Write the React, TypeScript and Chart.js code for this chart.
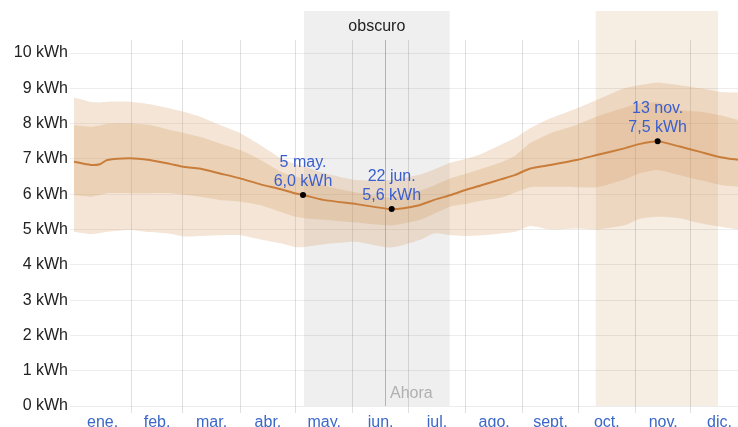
import React, { useEffect, useRef } from 'react';
import { Chart, registerables } from 'chart.js';

Chart.register(...registerables);

// ---- data (day of year, 0 = 1 Jan) ----
const days = [0, 9, 14, 18, 30, 41, 52, 60, 68, 79, 90, 101, 112, 120, 124, 135, 153, 172, 187, 195, 204, 212, 221, 231, 239, 247, 258, 272, 283, 298, 306, 316, 328, 339, 350, 360];

const median = [6.92, 6.83, 6.85, 6.97, 7.02, 6.97, 6.86, 6.77, 6.73, 6.59,
  6.45, 6.28, 6.14, 6.02, 5.98, 5.84, 5.72, 5.58, 5.69, 5.84,
  5.98, 6.12, 6.26, 6.42, 6.55, 6.73, 6.83, 6.97, 7.11, 7.3,
  7.42, 7.5, 7.35, 7.2, 7.05, 6.97];

const p90 = [8.74, 8.62, 8.6, 8.62, 8.62, 8.55, 8.43, 8.33, 8.2, 7.96,
  7.73, 7.39, 7.02, 6.85, 6.8, 6.6, 6.4, 6.4, 6.55, 6.7,
  6.9, 7.0, 7.15, 7.4, 7.6, 7.87, 8.15, 8.43, 8.67, 9.0,
  9.09, 9.16, 9.09, 9.0, 8.9, 8.88];

const p75 = [7.96, 7.91, 7.95, 8.0, 8.01, 7.96, 7.82, 7.73, 7.63, 7.44,
  7.25, 6.97, 6.64, 6.5, 6.45, 6.25, 6.05, 5.9, 6.1, 6.25,
  6.45, 6.58, 6.73, 6.9, 7.1, 7.45, 7.73, 7.96, 8.2, 8.45,
  8.57, 8.6, 8.39, 8.34, 8.24, 8.1];

const p25 = [5.98, 5.93, 5.98, 6.03, 6.03, 6.03, 6.03, 5.98, 5.93, 5.84,
  5.79, 5.69, 5.5, 5.36, 5.33, 5.28, 5.2, 5.12, 5.27, 5.45,
  5.65, 5.72, 5.82, 5.9, 6.05, 6.2, 6.21, 6.2, 6.2, 6.42,
  6.59, 6.69, 6.54, 6.4, 6.26, 6.21];

const p10 = [4.94, 4.87, 4.9, 4.94, 4.99, 4.93, 4.88, 4.8, 4.82, 4.84,
  4.84, 4.72, 4.61, 4.5, 4.5, 4.58, 4.65, 4.49, 4.7, 4.89,
  4.84, 4.82, 4.84, 4.89, 4.94, 5.1, 5.0, 5.03, 5.0, 5.12,
  5.3, 5.36, 5.32, 5.18, 5.08, 5.0];

const monthLabels = ['ene.', 'feb.', 'mar.', 'abr.', 'may.', 'jun.', 'jul.', 'ago.', 'sept.', 'oct.', 'nov.', 'dic.'];
const monthStarts = [0, 31, 59, 90, 120, 151, 181, 212, 243, 273, 304, 334];
const monthLengths = [31, 28, 31, 30, 31, 30, 31, 31, 30, 31, 30, 31];
const yTicks = [0, 1, 2, 3, 4, 5, 6, 7, 8, 9, 10];

const markerDays = [124, 172, 316];
const markerValues = [5.98, 5.58, 7.5];
const markerDates = ['5 may.', '22 jun.', '13 nov.'];
const markerTexts = ['6,0 kWh', '5,6 kWh', '7,5 kWh'];

const darkPeriod = [124.5, 203.4];
const darkLabel = 'obscuro';
const brightPeriod = [282.5, 348.7];
const nowDay = 168.2;
const nowLabel = 'Ahora';

const X_MIN = 0;
const X_MAX = 359.5;
const Y_MIN = 0;
const Y_MAX = 10.37;

const FONT = "'Liberation Sans', Arial, sans-serif";

const pts = (vals: number[]) => vals.map((v, i) => ({ x: days[i], y: v }));

const noPad = (s: any) => {
  s.paddingLeft = 0;
  s.paddingRight = 0;
  s.paddingTop = 0;
  s.paddingBottom = 0;
};

const decorPlugin = {
  id: 'decor',
  beforeDraw(chart: any) {
    const { ctx, chartArea, scales } = chart;
    const xs = scales.x;
    const top = chartArea.top - 29;
    const bottom = chartArea.bottom;
    ctx.save();
    const bx0 = xs.getPixelForValue(brightPeriod[0]);
    const bx1 = xs.getPixelForValue(brightPeriod[1]);
    ctx.fillStyle = '#f6ede3';
    ctx.fillRect(bx0, top, bx1 - bx0, bottom - top);
    const dx0 = xs.getPixelForValue(darkPeriod[0]);
    const dx1 = xs.getPixelForValue(darkPeriod[1]);
    ctx.fillStyle = '#efefef';
    ctx.fillRect(dx0, top, dx1 - dx0, bottom - top);
    ctx.fillStyle = '#222';
    ctx.font = `16px ${FONT}`;
    ctx.textAlign = 'center';
    ctx.textBaseline = 'middle';
    ctx.fillText(darkLabel, (dx0 + dx1) / 2, top + 16);
    ctx.restore();
  },
  beforeDatasetsDraw(chart: any) {
    const { ctx, chartArea, scales } = chart;
    const x = Math.round(scales.x.getPixelForValue(nowDay)) + 0.5;
    ctx.save();
    ctx.strokeStyle = 'rgba(0,0,0,0.25)';
    ctx.lineWidth = 1;
    ctx.beginPath();
    ctx.moveTo(x, chartArea.top);
    ctx.lineTo(x, chartArea.bottom);
    ctx.stroke();
    ctx.fillStyle = '#b0b0b0';
    ctx.font = `16px ${FONT}`;
    ctx.textAlign = 'left';
    ctx.textBaseline = 'alphabetic';
    ctx.fillText(nowLabel, x + 4.5, chartArea.bottom - 8);
    ctx.restore();
  },
  afterDatasetsDraw(chart: any) {
    const { ctx, scales } = chart;
    ctx.save();
    ctx.fillStyle = '#3a5fcd';
    ctx.font = `16px ${FONT}`;
    ctx.textAlign = 'center';
    ctx.textBaseline = 'alphabetic';
    markerDays.forEach((d, i) => {
      const px = scales.x.getPixelForValue(d);
      const py = scales.y.getPixelForValue(markerValues[i]);
      ctx.fillText(markerDates[i], px, py - 28);
      ctx.fillText(markerTexts[i], px, py - 9);
    });
    ctx.restore();
  },
};

export default function App() {
  const ref = useRef<HTMLCanvasElement | null>(null);

  useEffect(() => {
    if (!ref.current) return;
    Chart.defaults.font.family = FONT;
    const outer = 'rgba(210,150,90,0.25)';
    const inner = 'rgba(205,140,75,0.22)';
    const chart = new Chart(ref.current, {
      type: 'line',
      data: {
        datasets: [
          { data: pts(p90), fill: '+1', backgroundColor: outer, borderWidth: 0, pointRadius: 0, tension: 0.2, order: 4 },
          { data: pts(p10), fill: false, borderWidth: 0, pointRadius: 0, tension: 0.2, order: 4 },
          { data: pts(p75), fill: '+1', backgroundColor: inner, borderWidth: 0, pointRadius: 0, tension: 0.2, order: 3 },
          { data: pts(p25), fill: false, borderWidth: 0, pointRadius: 0, tension: 0.2, order: 3 },
          { data: pts(median), fill: false, borderColor: '#c97d3a', borderWidth: 2, pointRadius: 0, tension: 0.2, order: 2 },
          {
            data: markerDays.map((d, i) => ({ x: d, y: markerValues[i] })),
            showLine: false, pointRadius: 3, pointBackgroundColor: '#000', pointBorderWidth: 0, borderColor: '#000', order: 1,
          },
        ],
      },
      options: {
        responsive: false,
        animation: false,
        layout: { autoPadding: false, padding: { top: 40, left: 0, right: 0, bottom: 0 } },
        plugins: { legend: { display: false }, tooltip: { enabled: false } },
        scales: {
          xg: {
            type: 'linear', axis: 'x', position: 'bottom', weight: 0,
            min: X_MIN, max: X_MAX,
            afterBuildTicks: (s: any) => { s.ticks = monthStarts.slice(1).map((v) => ({ value: v })); },
            afterFit: (s: any) => { s.height = 0; noPad(s); },
            grid: { color: 'rgba(0,0,0,0.12)', drawTicks: true, tickLength: 7, lineWidth: 1 },
            border: { display: false },
            ticks: { display: false },
          } as any,
          x: {
            type: 'linear', position: 'bottom', weight: 1,
            min: X_MIN, max: X_MAX,
            afterBuildTicks: (s: any) => { s.ticks = monthStarts.map((v, i) => ({ value: v + monthLengths[i] / 2 })); },
            afterFit: (s: any) => { s.height = 21; noPad(s); },
            grid: { display: false, drawTicks: false },
            border: { display: false },
            ticks: {
              color: '#3a67c8', font: { size: 16 }, padding: 7, maxRotation: 0, autoSkip: false,
              callback: (_v: any, i: number) => monthLabels[i],
            },
          },
          y: {
            min: Y_MIN, max: Y_MAX,
            afterBuildTicks: (s: any) => { s.ticks = yTicks.map((v) => ({ value: v })); },
            afterFit: (s: any) => { s.width = 74; noPad(s); },
            grid: { color: 'rgba(0,0,0,0.07)', tickLength: 4 },
            border: { display: false },
            ticks: { padding: 2, color: '#222', font: { size: 16 }, callback: (v: any) => `${v} kWh` },
          },
        },
      },
      plugins: [decorPlugin],
    } as any);
    return () => chart.destroy();
  }, []);

  return (
    <canvas
      ref={ref}
      width={738}
      height={427}
      style={{ position: 'absolute', left: 0, top: 0, width: 738, height: 427, display: 'block' }}
    />
  );
}
